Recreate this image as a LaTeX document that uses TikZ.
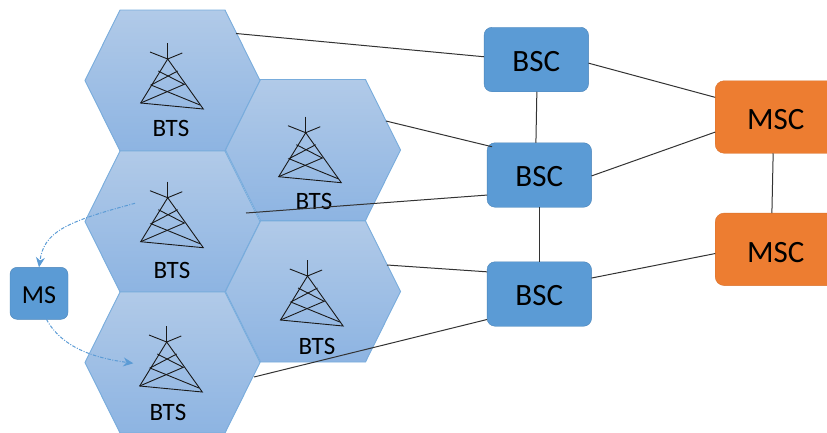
\documentclass[tikz,border=0pt]{standalone}
\usepackage{fontspec}
\setmainfont{Carlito}
\usetikzlibrary{arrows.meta}

\definecolor{hex_top}{HTML}{B1CAE8}
\definecolor{hex_bot}{HTML}{8DB4E2}
\definecolor{hex_edge}{HTML}{78ACDC}
\definecolor{bsc_fill}{HTML}{5B9BD5}
\definecolor{bsc_edge}{HTML}{4A84B8}
\definecolor{msc_fill}{HTML}{ED7D31}
\definecolor{msc_edge}{HTML}{D9722C}
\definecolor{link_col}{HTML}{333333}

\tikzset{
  hexcell/.style = {draw=hex_edge, line width=0.9pt, top color=hex_top, bottom color=hex_bot},
  tower/.style = {draw=black!90, line width=0.9pt},
  btslabel/.style = {font=\fontsize{25}{25}\selectfont, inner sep=0pt, text height=16pt, text depth=0pt},
  bscbox/.style = {draw=bsc_edge, fill=bsc_fill, rounded corners=8pt, inner sep=0pt, outer sep=0pt, minimum width=104.5pt, minimum height=64.5pt, text height=23pt, text depth=0pt, font=\fontsize{31}{31}\selectfont},
  mscbox/.style = {draw=msc_edge, fill=msc_fill, rounded corners=9pt, inner sep=0pt, outer sep=0pt, minimum width=121pt, minimum height=72.5pt, text height=25.5pt, text depth=0pt, font=\fontsize{31}{31}\selectfont},
  msbox/.style = {draw=bsc_edge, fill=bsc_fill, rounded corners=7pt, inner sep=0pt, outer sep=0pt, minimum width=58pt, minimum height=52pt, text height=20pt, text depth=0pt, font=\fontsize{26}{26}\selectfont},
  link/.style = {draw=link_col, line width=1pt},
  hop/.style = {draw=bsc_fill, line width=1pt, dash pattern=on 3.5pt off 1.5pt on 1pt off 1.5pt, -{Stealth[length=10pt,width=9pt]}},
  hexshape/.pic = {
    \path[hexcell] (-52.5,-70.5) -- (52.5,-70.5) -- (87.5,0) -- (52.5,70.5) -- (-52.5,70.5) -- (-87.5,0) -- cycle ;
  },
  towershape/.pic = {
    \draw[tower] (0,0) -- (0,16) ;
    \draw[tower] (-17.7,9) -- (0,16) -- (14.6,10) ;
    \draw[tower] (-27,60) -- (0,16) -- (35.6,66) -- cycle ;
    \draw[tower] (-9.4,28) -- (16.6,41.3) -- (-27,60) ;
    \draw[tower] (10,28) -- (-16.7,42) -- (32.3,62) ;
  },
}

\begin{document}
\begin{tikzpicture}[x=1pt,y=-1pt]

\useasboundingbox (0,0) rectangle (827,432) ;

\pic at (172.5,80.5) {hexshape} ;
\pic at (313,150) {hexshape} ;
\pic at (172.5,221.5) {hexshape} ;
\pic at (313,291.5) {hexshape} ;
\pic at (172.5,362.5) {hexshape} ;

\pic at (167.7,43) {towershape} ;
\pic at (305.7,116.7) {towershape} ;
\pic at (167.7,181.7) {towershape} ;
\pic at (307.5,260) {towershape} ;
\pic at (166.7,326) {towershape} ;

\node[btslabel] (bts_a) at (171,128) {BTS} ;
\node[btslabel] (bts_b) at (314,201) {BTS} ;
\node[btslabel] (bts_c) at (172,270) {BTS} ;
\node[btslabel] (bts_d) at (317,346) {BTS} ;
\node[btslabel] (bts_e) at (168,412) {BTS} ;

\coordinate (out_a) at (236,33.5) ;
\coordinate (out_b) at (386,121) ;
\coordinate (out_c) at (246,213) ;
\coordinate (out_d) at (387,265) ;
\coordinate (out_e) at (254,377) ;
\coordinate (hop_start) at (135,203.3) ;
\coordinate (hop_end) at (133.3,363.3) ;

\node[bscbox] (bsc_a) at (536.3,59.5) {BSC} ;
\node[bscbox] (bsc_b) at (539.3,175) {BSC} ;
\node[bscbox] (bsc_c) at (539.3,294) {BSC} ;
\node[mscbox] (msc_a) at (775.7,117) {MSC} ;
\node[mscbox] (msc_b) at (775.7,249.3) {MSC} ;
\node[msbox] (ms_a) at (39,293.3) {MS} ;

\draw[link] (out_a) -- (bsc_a.177) ;
\draw[link] (out_b) -- ([shift={(5,4)}]bsc_b.north west) ;
\draw[link] (out_c) -- (bsc_b.201.6) ;
\draw[link] (out_d) -- (bsc_c.157) ;
\draw[link] (out_e) -- (bsc_c.206) ;

\draw[link] (bsc_a.271) -- (bsc_b.96.4) ;
\draw[link] (bsc_b.south) -- (bsc_c.north) ;
\draw[link] (bsc_a.356) -- (msc_a.162.7) ;
\draw[link] (bsc_b.359) -- (msc_a.194.7) ;
\draw[link] (bsc_c.17) -- (msc_b.184.5) ;
\draw[link] (msc_a.266.2) -- (msc_b.96.3) ;

\draw[hop] (hop_start) .. controls (65,222) and (44,232) .. (ms_a.north) ;
\draw[hop] (ms_a.286.5) .. controls (62,348) and (95,358) .. (hop_end) ;

\end{tikzpicture}
\end{document}
